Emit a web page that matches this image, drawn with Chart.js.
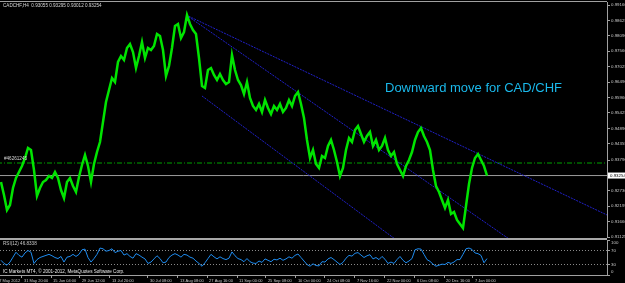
<!DOCTYPE html>
<html>
<head>
<meta charset="utf-8">
<script src="https://cdn.jsdelivr.net/npm/chart.js"></script>
<style>
  html, body { margin: 0; padding: 0; background: #000; overflow: hidden; }
  #wrap { position: relative; width: 625px; height: 283px; background: #000; }
  #precoCanvas { position: absolute; left: 0; top: 0; }
  #rsiCanvas { position: absolute; left: 0; top: 238px; }
</style>
</head>
<body>
<div id="wrap">
  <canvas id="precoCanvas" width="625" height="238"></canvas>
  <canvas id="rsiCanvas" width="625" height="45"></canvas>
</div>
<script>
// Textos do gráfico
const symbolTitle = 'CADCHF,H4  0.93055 0.93295 0.93012 0.93254';
const noteText = 'Downward move for CAD/CHF';
const orderLabel = '#46261245';
const rsiTitle = 'RSI(12) 46.8338';
const copyrightText = 'IC Markets MT4, \u00a9 2001-2012, MetaQuotes Software Corp.';

// Preços (um valor a cada 3 barras mais ou menos)
const prices = [
  0.93030, 0.92580, 0.92061, 0.92234, 0.92823, 0.93169, 0.93377, 0.93584, 0.93861, 0.94208,
  0.94139, 0.93446, 0.92546, 0.92823, 0.93030, 0.93100, 0.93238, 0.93169, 0.93377, 0.93169,
  0.92753, 0.92476, 0.93030, 0.93169, 0.92892, 0.92684, 0.93203, 0.93619, 0.93965, 0.93584,
  0.93030, 0.93654, 0.94069, 0.94416, 0.95108, 0.95801, 0.96216, 0.96632, 0.96493, 0.97186,
  0.97394, 0.97255, 0.97671, 0.97809, 0.97532, 0.96978, 0.97394, 0.97879, 0.97325, 0.97671,
  0.97602, 0.97740, 0.98156, 0.98086, 0.97602, 0.96701, 0.97047, 0.97671, 0.98433, 0.98502,
  0.98017, 0.98225, 0.98814, 0.98502, 0.98294, 0.98156, 0.97325, 0.96355, 0.96286, 0.96909,
  0.96978, 0.96736, 0.96563, 0.96770, 0.96563, 0.96424, 0.96493, 0.97428, 0.96909, 0.96563,
  0.96389, 0.96078, 0.96493, 0.95939, 0.95662, 0.95524, 0.95732, 0.95454, 0.95870, 0.95593,
  0.95385, 0.95662, 0.95524, 0.95732, 0.95454, 0.95593, 0.95870, 0.95662, 0.96009, 0.96147,
  0.95732, 0.95247, 0.94485, 0.93861, 0.94139, 0.93654, 0.93515, 0.93931, 0.93861, 0.94277,
  0.94485, 0.94139, 0.93723, 0.93238, 0.93515, 0.94139, 0.94554, 0.94416, 0.94831, 0.94970,
  0.94693, 0.94416, 0.94623, 0.94762, 0.94277, 0.94485, 0.94139, 0.94277, 0.94554, 0.94139,
  0.93931, 0.94069, 0.93654, 0.93446, 0.93238, 0.93584, 0.93792, 0.94069, 0.94485, 0.94762,
  0.94900, 0.94623, 0.94416, 0.94139, 0.93446, 0.92892, 0.92684, 0.92407, 0.92130, 0.92407,
  0.91922, 0.91991, 0.91714, 0.91576, 0.91437, 0.92199, 0.92961, 0.93515, 0.93861, 0.94000,
  0.93792, 0.93584, 0.93254
];

// RSI(12) nos mesmos pontos
const rsiValues = [
  42, 33, 28, 37, 51, 65, 56, 51, 63, 70,
  65, 33, 44, 50, 53, 56, 59, 55, 50, 47,
  53, 37, 51, 53, 59, 53, 59, 72, 74, 50,
  37, 47, 59, 77, 75, 68, 70, 75, 64, 68,
  70, 57, 61, 53, 48, 61, 57, 51, 46, 33,
  37, 46, 55, 47, 35, 37, 50, 57, 61, 57,
  51, 59, 57, 51, 48, 40, 33, 25, 35, 47,
  59, 52, 46, 52, 47, 44, 48, 66, 55, 47,
  44, 38, 47, 38, 34, 33, 40, 36, 46, 42,
  38, 45, 43, 48, 42, 46, 52, 48, 56, 60,
  50, 40, 30, 25, 32, 27, 26, 38, 37, 46,
  50, 44, 37, 30, 36, 48, 56, 54, 62, 64,
  57, 50, 55, 58, 46, 50, 44, 53, 45, 33,
  37, 33, 44, 53, 42, 35, 40, 47, 72, 75,
  74, 59, 44, 39, 31, 25, 28, 31, 30, 36,
  33, 37, 44, 44, 59, 75, 77, 73, 63, 61,
  56, 35, 46.8
];

// Escala de preços (lado direito)
const priceTicks = [0.99160, 0.98625, 0.98090, 0.97560, 0.97025, 0.96490, 0.95960, 0.95425,
  0.94890, 0.94355, 0.93790, 0.92730, 0.92195, 0.91660, 0.91125];
const rsiTicks = [100, 70, 30, 0];
const rsiLevels = [70, 30];

// Eixo de tempo
const timeLabels = ['17 May 2012', '31 May 20:00', '15 Jun 04:00', '29 Jun 12:00', '13 Jul 20:00',
  '30 Jul 08:00', '13 Aug 08:00', '27 Aug 16:00', '11 Sep 00:00', '25 Sep 08:00', '10 Oct 00:00',
  '24 Oct 08:00', '7 Nov 16:00', '22 Nov 00:00', '6 Dec 08:00', '20 Dec 16:00', '7 Jan 00:00'];
const timeLabelBars = [-2, 7, 16.7, 26.3, 36.3, 49, 59, 68.7, 78.7, 88.3, 98.3, 108, 118, 128, 138, 147.7, 157.3];

// Linhas de tendência e níveis (barra, preço)
const trendUpper = [[61.7, 0.98814], [202, 0.91888]];
const trendMid = [[61.7, 0.98814], [175, 0.90650]];
const trendLower = [[67, 0.96009], [134, 0.90850]];
const currentPrice = 0.93254;
const orderPrice = 0.93688;

const xMin = -0.33;
const xMax = 202;

Chart.defaults.font.family = '"Liberation Sans", Arial, sans-serif';
Chart.defaults.color = '#c8c8c8';

function pontos(valores) {
    return valores.map((v, i) => ({ x: i, y: v }));
}
function segmento(par) {
    return par.map(p => ({ x: p[0], y: p[1] }));
}
function horizontal(valor) {
    return [{ x: xMin - 1, y: valor }, { x: xMax + 1, y: valor }];
}
function semPadding(scale) {
    scale.paddingTop = 0;
    scale.paddingBottom = 0;
    scale.paddingLeft = 0;
    scale.paddingRight = 0;
}

// Textos e caixa do preço atual
const precoExtras = {
    id: 'precoExtras',
    afterDraw(chart) {
        const ctx = chart.ctx;
        const area = chart.chartArea;
        const y = chart.scales.y;
        ctx.save();
        ctx.fillStyle = '#a0a0a0';
        ctx.fillRect(0, 1, area.right, 1);

        ctx.textBaseline = 'middle';
        ctx.textAlign = 'left';
        ctx.font = '4.6px "Liberation Sans", Arial';
        ctx.fillStyle = '#d8d8d8';
        ctx.fillText(symbolTitle, 3, 5.5);
        ctx.fillText(orderLabel, 4, y.getPixelForValue(orderPrice) - 4);

        ctx.font = '13px "Liberation Sans", Arial';
        ctx.fillStyle = '#1ab8ea';
        ctx.fillText(noteText, 385, 88);

        const cy = y.getPixelForValue(currentPrice);
        ctx.fillStyle = '#ffffff';
        ctx.fillRect(area.right + 1, cy - 3, 625 - area.right, 6);
        ctx.fillStyle = '#000000';
        ctx.font = '4.4px "Liberation Sans", Arial';
        ctx.fillText(currentPrice.toFixed(5), area.right + 3, cy);
        ctx.restore();
    }
};

const rsiExtras = {
    id: 'rsiExtras',
    afterDraw(chart) {
        const ctx = chart.ctx;
        const area = chart.chartArea;
        const y = chart.scales.y;
        ctx.save();
        ctx.fillStyle = '#a8a8a8';
        ctx.fillRect(0, 0, area.right, 2);

        ctx.textBaseline = 'middle';
        ctx.textAlign = 'left';
        ctx.font = '4.6px "Liberation Sans", Arial';
        ctx.fillStyle = '#c8c8c8';
        ctx.fillText(rsiTitle, 3, 5.5);
        ctx.fillStyle = '#e8e8e8';
        ctx.fillText(copyrightText, 3, 34);

        ctx.font = '4.4px "Liberation Sans", Arial';
        ctx.fillStyle = '#c8c8c8';
        rsiTicks.forEach(v => {
            let py = y.getPixelForValue(v);
            py = Math.max(area.top + 3, Math.min(area.bottom - 3, py));
            ctx.fillText(String(v), area.right + 4, py);
        });
        ctx.restore();
    }
};

// Gráfico de preços
new Chart(document.getElementById('precoCanvas'), {
    type: 'line',
    data: {
        datasets: [
            { data: pontos(prices), borderColor: '#00e400', borderWidth: 2.5 },
            { data: segmento(trendUpper), borderColor: '#2020c8', borderWidth: 1, borderDash: [2, 1] },
            { data: segmento(trendMid), borderColor: '#2020c8', borderWidth: 1, borderDash: [2, 1] },
            { data: segmento(trendLower), borderColor: '#2020c8', borderWidth: 1, borderDash: [2, 1] },
            { data: horizontal(currentPrice), borderColor: '#9a9a9a', borderWidth: 1 },
            { data: horizontal(orderPrice), borderColor: '#00a000', borderWidth: 1, borderDash: [5, 2, 1, 2] }
        ]
    },
    options: {
        responsive: false,
        animation: false,
        events: [],
        devicePixelRatio: 1,
        elements: { point: { radius: 0 }, line: { tension: 0 } },
        layout: { padding: { top: 2, left: 0, right: 0, bottom: 0 } },
        plugins: { legend: { display: false }, tooltip: { enabled: false } },
        scales: {
            x: { type: 'linear', min: xMin, max: xMax, display: false },
            y: {
                position: 'right',
                min: 0.91091,
                max: 0.99264,
                afterBuildTicks: scale => { scale.ticks = priceTicks.map(v => ({ value: v })); },
                afterFit: scale => { scale.width = 18; semPadding(scale); },
                ticks: {
                    autoSkip: false,
                    padding: 1,
                    color: '#c8c8c8',
                    font: { size: 4.4 },
                    callback: v => v.toFixed(5)
                },
                grid: { drawOnChartArea: false, tickLength: 3, color: '#a0a0a0' },
                border: { color: '#a0a0a0' }
            }
        }
    },
    plugins: [precoExtras]
});

// Janela do RSI
new Chart(document.getElementById('rsiCanvas'), {
    type: 'line',
    data: {
        datasets: [
            { data: pontos(rsiValues), borderColor: '#1e8cf0', borderWidth: 1 },
            { data: horizontal(rsiLevels[0]), borderColor: '#8c8c8c', borderWidth: 1, borderDash: [1, 2] },
            { data: horizontal(rsiLevels[1]), borderColor: '#8c8c8c', borderWidth: 1, borderDash: [1, 2] }
        ]
    },
    options: {
        responsive: false,
        animation: false,
        events: [],
        devicePixelRatio: 1,
        elements: { point: { radius: 0 }, line: { tension: 0 } },
        layout: { padding: { top: 2, left: 0, right: 0, bottom: 0 } },
        plugins: { legend: { display: false }, tooltip: { enabled: false } },
        scales: {
            x: {
                type: 'linear',
                min: xMin,
                max: xMax,
                afterBuildTicks: scale => { scale.ticks = timeLabelBars.map(v => ({ value: v })); },
                afterFit: scale => { scale.height = 8; semPadding(scale); },
                ticks: {
                    autoSkip: false,
                    maxRotation: 0,
                    minRotation: 0,
                    align: 'start',
                    labelOffset: 2,
                    padding: 0,
                    color: '#c8c8c8',
                    font: { size: 4.0 },
                    callback: (v, i) => timeLabels[i]
                },
                grid: { drawOnChartArea: false, tickLength: 3, color: '#a0a0a0' },
                border: { color: '#a0a0a0' }
            },
            y: {
                position: 'right',
                min: 0,
                max: 100,
                afterBuildTicks: scale => { scale.ticks = rsiTicks.map(v => ({ value: v })); },
                afterFit: scale => { scale.width = 18; semPadding(scale); },
                ticks: { display: false },
                grid: { drawOnChartArea: false, tickLength: 3, color: '#a0a0a0' },
                border: { color: '#a0a0a0' }
            }
        }
    },
    plugins: [rsiExtras]
});
</script>
</body>
</html>
